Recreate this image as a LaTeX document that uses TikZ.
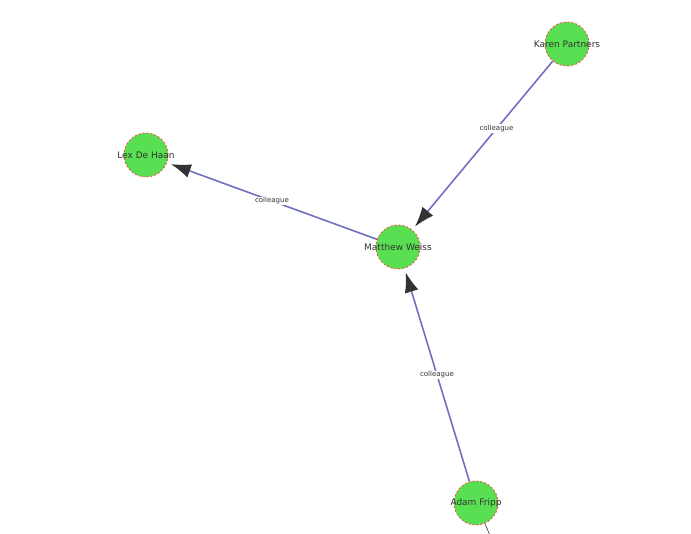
\documentclass[tikz,border=0pt]{standalone}
\usepackage{fontspec}
\setmainfont{DejaVu Sans}
\usetikzlibrary{arrows.meta}
\begin{document}
\begin{tikzpicture}[x=1pt,y=-1pt,
  person/.style={circle,fill=green!60!lime!80!white,fill=green!65!black!40!green,draw=red!60!pink,dashed,dash pattern=on 2pt off 2pt,line width=0.9pt,minimum size=44pt,inner sep=0pt},
  lbl/.style={font=\fontsize{9}{10}\selectfont,text=black!80},
  rel/.style={draw=blue!40!gray!80,line width=1.6pt,-{Latex[length=20pt,width=14pt,color=black!80]},shorten >=4pt},
  elbl/.style={font=\fontsize{7}{8}\selectfont,text=black!80,fill=white,inner sep=1pt}]
\definecolor{ng}{RGB}{88,224,82}
\useasboundingbox (0,0) rectangle (691,534);
\tikzset{person/.append style={fill=ng}}
\node[person] (k) at (567,44) {};
\node[person] (l) at (146,155) {};
\node[person] (m) at (398,247) {};
\node[person] (a) at (476,503) {};
\coordinate (off) at (492,540);
\draw[rel] (k) -- node[elbl,pos=0.4]{colleague} (m);
\draw[rel] (m) -- node[elbl]{colleague} (l);
\draw[rel] (a) -- node[elbl,pos=0.5]{colleague} (m);
\draw[black!80,line width=0.6pt] (a) -- (off);
\node[lbl] at (k) {Karen Partners};
\node[lbl] at (l) {Lex De Haan};
\node[lbl] at (m) {Matthew Weiss};
\node[lbl] at (a) {Adam Fripp};
\end{tikzpicture}
\end{document}
